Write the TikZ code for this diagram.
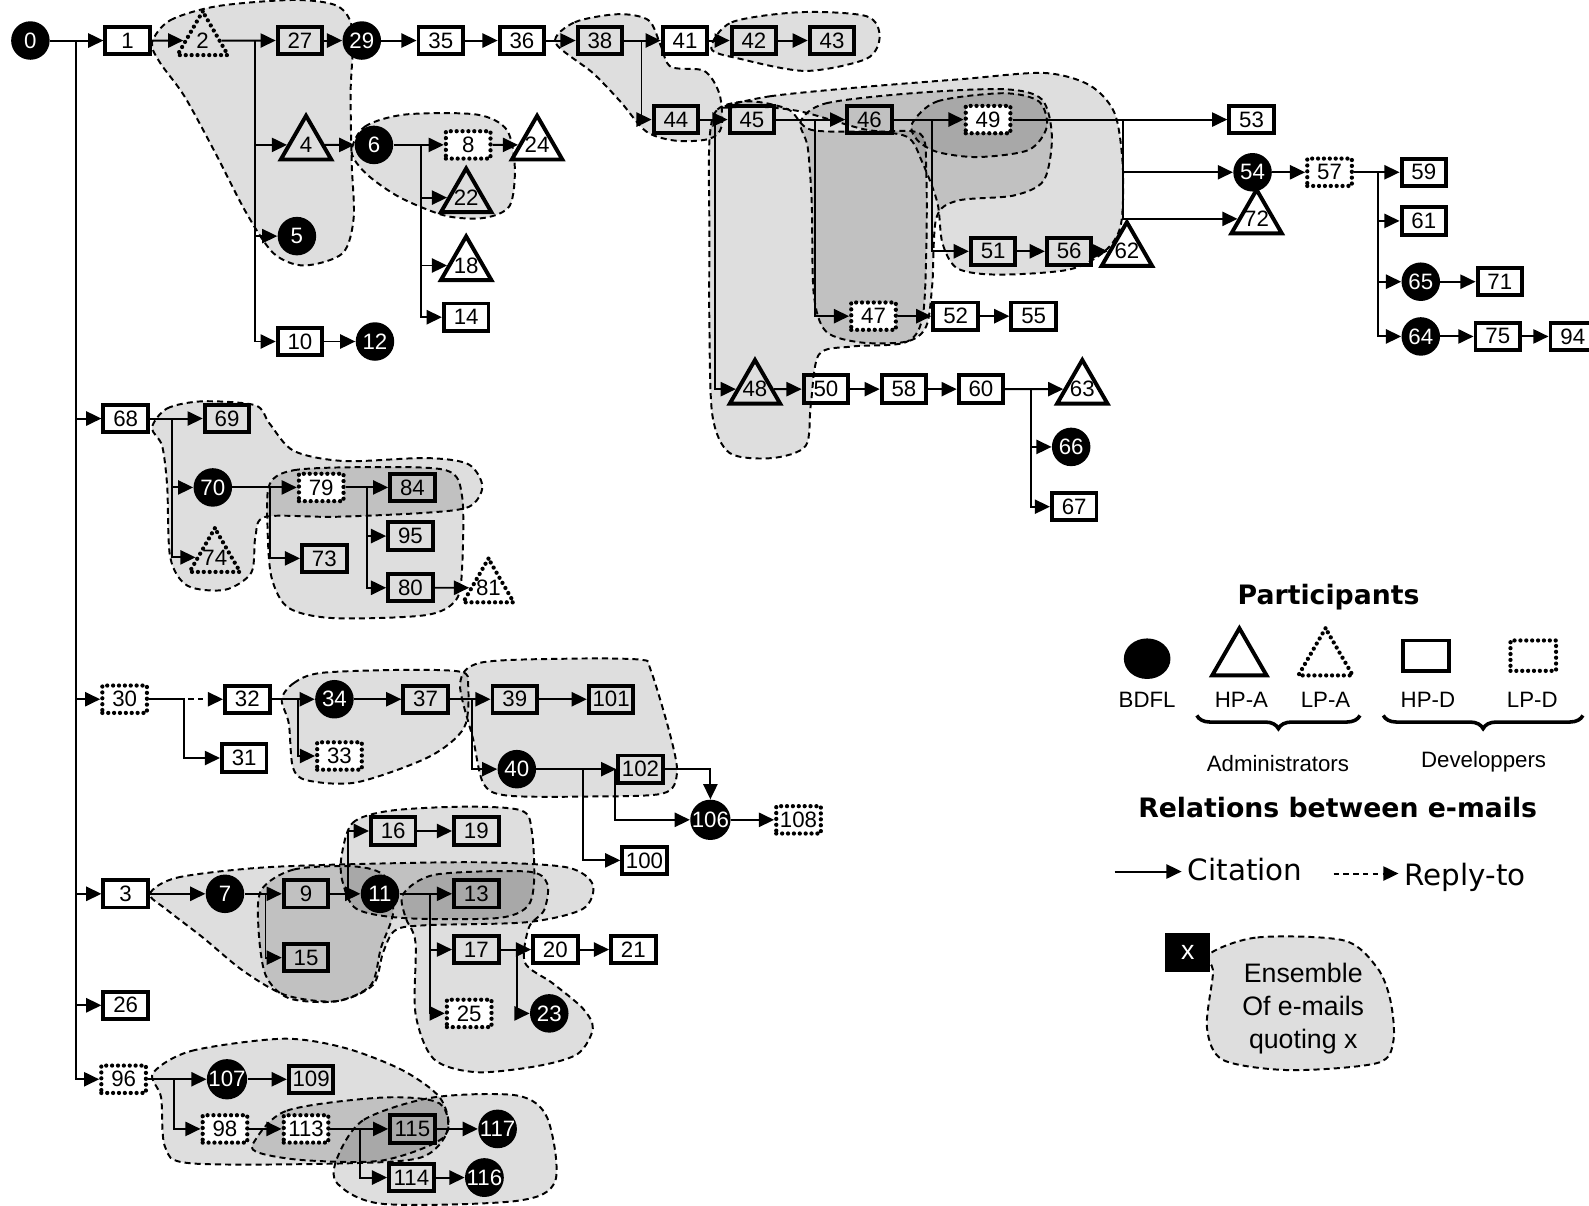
\documentclass[tikz,border=0pt]{standalone}
\usepackage{fontspec}
\setmainfont{Liberation Sans}
\newfontfamily\legendfont{DejaVu Sans}
\usepackage{tikz}
\usetikzlibrary{arrows.meta,shapes.geometric,decorations.pathreplacing}

\newcommand{\tlabel}[1]{\makebox[0pt]{#1}}

\tikzset{
  mail/.style={font=\fontsize{12.5}{14}\selectfont, inner sep=0.4mm},
  hpd/.style={mail, draw, rectangle, line width=2.2pt, minimum width=8.8mm, minimum height=5.4mm},
  lpd/.style={hpd, fill=white, line cap=round, dash pattern=on 0pt off 3.3pt, line width=2.4pt},
  bdfl/.style={mail, circle, fill=black, text=white, minimum size=7.6mm, inner sep=0pt},
  hpa/.style={mail, draw, regular polygon, regular polygon sides=3, line width=2.2pt, minimum size=11.5mm, inner sep=0pt},
  lpa/.style={hpa, line cap=round, dash pattern=on 0pt off 3.3pt, line width=2.4pt},
  cite/.style={line width=1.1pt, -{Triangle[length=3mm,width=2.8mm]}},
  reply/.style={cite, dash pattern=on 3pt off 2.5pt},
  quoteset/.style={draw, line width=1.1pt, dash pattern=on 3.4pt off 2.3pt, fill=black, fill opacity=0.13},
  legtitle/.style={font=\legendfont\bfseries\fontsize{15}{18}\selectfont},
  legrel/.style={font=\legendfont\fontsize{16.5}{20}\selectfont},
  leglabel/.style={font=\fontsize{12.5}{14}\selectfont}
}

\begin{document}
\begin{tikzpicture}[x=0.2mm,y=-0.2mm]
\useasboundingbox (0,0) rectangle (1568,1190);

% sets of e-mails quoting the same mail (behind everything)
\draw[quoteset] plot[smooth cycle] coordinates {(150,42) (168,20) (215,6) (290,0) (333,6) (348,30) (346,90) (347,160) (349,215) (338,250) (300,262) (270,250) (243,210) (212,150) (182,95) (158,62)};
\draw[quoteset] plot[smooth cycle] coordinates {(347,150) (360,125) (400,113) (470,113) (500,128) (508,165) (503,203) (478,215) (440,213) (395,195) (362,172)};
\draw[quoteset] plot[smooth cycle] coordinates {(548,42) (567,22) (610,14) (640,20) (652,45) (662,66) (695,70) (710,93) (712,125) (700,137) (668,139) (638,130) (612,100) (585,72)};
\draw[quoteset] plot[smooth cycle] coordinates {(702,48) (722,22) (790,12) (855,16) (868,36) (855,58) (795,70) (730,58)};
% around 45 .. 62
\draw[quoteset] plot[smooth cycle] coordinates {(700,140) (708,108) (740,100) (778,108) (800,128) (860,130) (908,132) (914,170) (914,250) (910,315) (893,338) (840,342) (808,350) (800,400) (795,440) (762,452) (720,447) (703,410) (700,320) (700,230)};
\draw[quoteset] plot[smooth cycle] coordinates {(790,120) (815,102) (900,92) (990,88) (1028,98) (1038,135) (1030,178) (1000,193) (945,198) (924,215) (920,280) (914,322) (895,337) (850,338) (815,327) (803,290) (801,200) (797,145)};
\draw[quoteset] plot[smooth cycle] coordinates {(712,106) (760,95) (850,86) (950,78) (1030,72) (1075,84) (1100,112) (1108,165) (1106,222) (1090,248) (1055,266) (985,271) (945,265) (930,240) (925,200) (910,160) (895,135) (850,127) (790,110) (745,105)};
\draw[quoteset] plot[smooth cycle] coordinates {(900,122) (925,100) (990,92) (1025,100) (1033,125) (1015,148) (965,155) (925,150) (905,138)};
% around 68
\draw[quoteset] plot[smooth cycle] coordinates {(150,422) (165,403) (200,396) (252,400) (266,418) (290,445) (340,455) (420,452) (462,458) (476,480) (463,500) (420,506) (330,510) (262,510) (252,530) (248,565) (222,582) (185,578) (168,550) (165,480) (160,440)};
\draw[quoteset] plot[smooth cycle] coordinates {(266,478) (290,464) (360,461) (440,464) (456,490) (456,560) (450,592) (420,607) (330,610) (285,600) (268,570) (264,520)};
% around 30
\draw[quoteset] plot[smooth cycle] coordinates {(278,690) (290,674) (317,664) (400,661) (455,663) (462,676) (458,718) (423,747) (352,772) (303,770) (289,757) (285,714)};
\draw[quoteset] plot[smooth cycle] coordinates {(454,675) (474,654) (560,650) (632,651) (642,661) (661,724) (668,763) (654,783) (580,786) (500,785) (477,773) (467,730)};
% around 3
\draw[quoteset] plot[smooth cycle] coordinates {(148,882) (175,866) (260,856) (380,852) (480,851) (560,856) (585,873) (575,897) (520,910) (420,913) (390,918) (378,940) (368,972) (332,988) (282,982) (240,958) (200,925) (165,898)};
\draw[quoteset] plot[smooth cycle] coordinates {(258,878) (290,858) (350,855) (380,865) (388,900) (376,935) (366,972) (332,988) (285,985) (262,962) (255,915)};
\draw[quoteset] plot[smooth cycle] coordinates {(337,845) (348,812) (385,800) (460,796) (515,800) (525,822) (527,870) (520,895) (490,906) (400,906) (352,897) (338,870)};
\draw[quoteset] plot[smooth cycle] coordinates {(398,882) (430,863) (520,860) (540,872) (537,898) (522,915) (518,950) (545,970) (575,995) (585,1015) (570,1040) (530,1052) (470,1058) (428,1045) (410,1000) (410,930) (400,905)};
% around 96
\draw[quoteset] plot[smooth cycle] coordinates {(151,1059) (189,1037) (279,1025) (340,1034) (397,1056) (434,1083) (442,1115) (416,1142) (340,1148) (189,1148) (163,1132) (159,1083)};
\draw[quoteset] plot[smooth cycle] coordinates {(250,1128) (283,1096) (378,1083) (434,1089) (438,1122) (378,1145) (302,1145) (257,1138)};
\draw[quoteset] plot[smooth cycle] coordinates {(333,1142) (359,1105) (427,1083) (510,1081) (540,1103) (548,1165) (510,1185) (378,1188) (333,1168)};

% mails: thread of 1
\node[bdfl] (m0) at (30,40) {0};
\node[hpd] (m1) at (126,40) {1};
\node[lpa] (m2) at (200,40) {\tlabel{2}};
\node[hpd] (m27) at (296,40) {27};
\node[bdfl] (m29) at (357,40) {29};
\node[hpd] (m35) at (435,40) {35};
\node[hpd] (m36) at (515,40) {36};
\node[hpd] (m38) at (592,40) {38};
\node[hpd] (m41) at (676,40) {41};
\node[hpd] (m42) at (744,40) {42};
\node[hpd] (m43) at (821,40) {43};
\node[hpa] (m4) at (302,143) {\tlabel{4}};
\node[bdfl] (m6) at (369,143) {6};
\node[lpd] (m8) at (462,143) {8};
\node[hpa] (m24) at (530,143) {\tlabel{24}};
\node[hpa] (m22) at (460,195) {\tlabel{22}};
\node[hpa] (m18) at (460,262) {\tlabel{18}};
\node[hpd] (m14) at (460,313) {14};
\node[bdfl] (m5) at (293,233) {5};
\node[hpd] (m10) at (296,337) {10};
\node[bdfl] (m12) at (370,337) {12};
\node[hpd] (m44) at (667,118) {44};
\node[hpd] (m45) at (742,118) {45};
\node[hpd] (m46) at (858,118) {46};
\node[lpd] (m49) at (975,118) {49};
\node[hpd] (m53) at (1235,118) {53};
\node[bdfl] (m54) at (1236,170) {54};
\node[hpa] (m72) at (1240,216) {\tlabel{72}};
\node[lpd] (m57) at (1312,170) {57};
\node[hpd] (m59) at (1405,170) {59};
\node[hpd] (m61) at (1405,218) {61};
\node[bdfl] (m65) at (1402,278) {65};
\node[hpd] (m71) at (1480,278) {71};
\node[bdfl] (m64) at (1402,332) {64};
\node[hpd] (m75) at (1478,332) {75};
\node[hpd] (m94) at (1552,332) {94};
\node[hpd] (m51) at (980,248) {51};
\node[hpd] (m56) at (1055,248) {56};
\node[hpa] (m62) at (1112,248) {\tlabel{62}};
\node[lpd] (m47) at (862,312) {47};
\node[hpd] (m52) at (943,312) {52};
\node[hpd] (m55) at (1020,312) {55};
\node[hpa] (m48) at (745,384) {\tlabel{48}};
\node[hpd] (m50) at (815,384) {50};
\node[hpd] (m58) at (892,384) {58};
\node[hpd] (m60) at (968,384) {60};
\node[hpa] (m63) at (1068,384) {\tlabel{63}};
\node[bdfl] (m66) at (1057,441) {66};
\node[hpd] (m67) at (1060,500) {67};

% mails: thread of 68
\node[hpd] (m68) at (124,413) {68};
\node[hpd] (m69) at (224,413) {69};
\node[bdfl] (m70) at (210,481) {70};
\node[lpa] (m74) at (212,550) {\tlabel{74}};
\node[lpd] (m79) at (317,481) {79};
\node[hpd] (m73) at (320,551) {73};
\node[hpd] (m84) at (407,481) {84};
\node[hpd] (m95) at (405,529) {95};
\node[hpd] (m80) at (405,580) {80};
\node[lpa] (m81) at (482,580) {\tlabel{81}};

% mails: thread of 30
\node[lpd] (m30) at (123,690) {30};
\node[hpd] (m32) at (244,690) {32};
\node[hpd] (m31) at (241,748) {31};
\node[bdfl] (m34) at (330,690) {34};
\node[lpd] (m33) at (335,746) {33};
\node[hpd] (m37) at (420,690) {37};
\node[hpd] (m39) at (508,690) {39};
\node[hpd] (m101) at (603,690) {101};
\node[bdfl] (m40) at (510,759) {40};
\node[hpd] (m102) at (632,759) {102};
\node[hpd] (m100) at (636,849) {100};
\node[bdfl] (m106) at (701,809) {106};
\node[lpd] (m108) at (788,809) {108};

% mails: thread of 3
\node[hpd] (m3) at (124,882) {3};
\node[bdfl] (m7) at (222,882) {7};
\node[hpd] (m9) at (302,882) {9};
\node[hpd] (m15) at (302,945) {15};
\node[bdfl] (m11) at (375,882) {11};
\node[hpd] (m16) at (388,820) {16};
\node[hpd] (m19) at (470,820) {19};
\node[hpd] (m13) at (470,882) {13};
\node[hpd] (m17) at (470,937) {17};
\node[lpd] (m25) at (463,1000) {25};
\node[hpd] (m20) at (548,937) {20};
\node[hpd] (m21) at (625,937) {21};
\node[bdfl] (m23) at (542,1000) {23};
\node[hpd] (m26) at (124,992) {26};

% mails: thread of 96
\node[lpd] (m96) at (122,1065) {96};
\node[bdfl] (m107) at (224,1065) {107};
\node[hpd] (m109) at (307,1065) {109};
\node[lpd] (m98) at (222,1114) {98};
\node[lpd] (m113) at (302,1114) {113};
\node[hpd] (m115) at (407,1114) {115};
\node[bdfl] (m117) at (491,1114) {117};
\node[hpd] (m114) at (406,1162) {114};
\node[bdfl] (m116) at (478,1162) {116};

% branch points
\coordinate (t0) at (75,40);
\coordinate (b2) at (252,40);
\coordinate (b6) at (415,143);
\coordinate (b38) at (633,40);
\coordinate (b44) at (706,118);
\coordinate (b45) at (804,118);
\coordinate (b46) at (920,118);
\coordinate (b49) at (1108,118);
\coordinate (b57) at (1360,170);
\coordinate (b60) at (1017,384);
\coordinate (b68) at (170,413);
\coordinate (b70) at (266,481);
\coordinate (b79) at (362,481);
\coordinate (b30) at (182,690);
\coordinate (b32) at (294,690);
\coordinate (b37) at (466,690);
\coordinate (b40) at (575,759);
\coordinate (b40b) at (607,759);
\coordinate (b7) at (262,882);
\coordinate (b9) at (343,882);
\coordinate (b11) at (424,882);
\coordinate (b17) at (510,937);
\coordinate (b96) at (172,1065);
\coordinate (b113) at (355,1114);

% citations
\draw[cite] (m0) -- (t0) -- (m1);
\draw[cite] (t0) |- (m68);
\draw[cite] (t0) |- (m30);
\draw[cite] (t0) |- (m3);
\draw[cite] (t0) |- (m26);
\draw[cite] (t0) |- (m96);
\draw[cite] (m1) -- (m2);
\draw[cite] (m2) -- (m27);
\draw[cite] (b2) |- (m4);
\draw[cite] (b2) |- (m5);
\draw[cite] (b2) |- (m10);
\draw[cite] (m10) -- (m12);
\draw[cite] (m4) -- (m6);
\draw[cite] (m6) -- (m8);
\draw[cite] (b6) |- (m22);
\draw[cite] (b6) |- (m18);
\draw[cite] (b6) |- (m14);
\draw[cite] (m8) -- (m24);
\draw[cite] (m27) -- (m29);
\draw[cite] (m29) -- (m35);
\draw[cite] (m35) -- (m36);
\draw[cite] (m36) -- (m38);
\draw[cite] (m38) -- (m41);
\draw[cite] (b38) |- (m44);
\draw[cite] (m41) -- (m42);
\draw[cite] (m42) -- (m43);
\draw[cite] (m44) -- (m45);
\draw[cite] (b44) |- (m48);
\draw[cite] (m45) -- (m46);
\draw[cite] (b45) |- (m47);
\draw[cite] (m46) -- (m49);
\draw[cite] (b46) |- (m51);
\draw[cite] (m49) -- (m53);
\draw[cite] (b49) |- (m54);
\draw[cite] (b49) |- (m72);
\draw[cite] (m54) -- (m57);
\draw[cite] (m57) -- (m59);
\draw[cite] (b57) |- (m61);
\draw[cite] (b57) |- (m65);
\draw[cite] (b57) |- (m64);
\draw[cite] (m65) -- (m71);
\draw[cite] (m64) -- (m75);
\draw[cite] (m75) -- (m94);
\draw[cite] (m51) -- (m56);
\draw[cite] (m56) -- (m62);
\draw[cite] (m47) -- (m52);
\draw[cite] (m52) -- (m55);
\draw[cite] (m48) -- (m50);
\draw[cite] (m50) -- (m58);
\draw[cite] (m58) -- (m60);
\draw[cite] (m60) -- (m63);
\draw[cite] (b60) |- (m66);
\draw[cite] (b60) |- (m67);

\draw[cite] (m68) -- (m69);
\draw[cite] (b68) |- (m70);
\draw[cite] (b68) |- (m74);
\draw[cite] (m70) -- (m79);
\draw[cite] (b70) |- (m73);
\draw[cite] (m79) -- (m84);
\draw[cite] (b79) |- (m95);
\draw[cite] (b79) |- (m80);
\draw[cite] (m80) -- (m81);

\draw[reply] (m30) -- (m32);
\draw[cite] (m30) -- (b30) |- (m31);
\draw[cite] (m32) -- (m34);
\draw[cite] (b32) |- (m33);
\draw[cite] (m34) -- (m37);
\draw[cite] (m37) -- (m39);
\draw[cite] (b37) |- (m40);
\draw[cite] (m39) -- (m101);
\draw[cite] (m40) -- (m102);
\draw[cite] (b40) |- (m100);
\draw[cite] (b40b) |- (m106);
\draw[cite] (m102) -| (m106);
\draw[cite] (m106) -- (m108);

\draw[cite] (m3) -- (m7);
\draw[cite] (m7) -- (m9);
\draw[cite] (b7) |- (m15);
\draw[cite] (m9) -- (m11);
\draw[cite] (b9) |- (m16);
\draw[cite] (m16) -- (m19);
\draw[cite] (m11) -- (m13);
\draw[cite] (b11) |- (m17);
\draw[cite] (b11) |- (m25);
\draw[cite] (m17) -- (m20);
\draw[cite] (b17) |- (m23);
\draw[cite] (m20) -- (m21);

\draw[cite] (m96) -- (m107);
\draw[cite] (b96) |- (m98);
\draw[cite] (m107) -- (m109);
\draw[cite] (m98) -- (m113);
\draw[cite] (m113) -- (m115);
\draw[cite] (b113) |- (m114);
\draw[cite] (m115) -- (m117);
\draw[cite] (m114) -- (m116);

% legend: participants
\node[legtitle] (lgPart) at (1311,589) {Participants};
\node[ellipse, fill=black, minimum width=9.2mm, minimum height=8mm] (lgBDFL) at (1132,650) {};
\node[hpa, minimum size=12.4mm] (lgHPA) at (1223,651) {};
\node[lpa, minimum size=12.4mm] (lgLPA) at (1308,651) {};
\node[hpd, minimum width=9mm, minimum height=6mm] (lgHPD) at (1407,647) {};
\node[lpd, minimum width=9mm, minimum height=6mm] (lgLPD) at (1513,647) {};
\node[leglabel] (lbBDFL) at (1132,691) {BDFL};
\node[leglabel] (lbHPA) at (1225,691) {HP-A};
\node[leglabel] (lbLPA) at (1308,691) {LP-A};
\node[leglabel] (lbHPD) at (1409,691) {HP-D};
\node[leglabel] (lbLPD) at (1512,691) {LP-D};
\coordinate (admL) at (1181,706);
\coordinate (admR) at (1342,706);
\coordinate (devL) at (1365,706);
\coordinate (devR) at (1562,706);
\draw[line width=2pt, decorate, decoration={brace, mirror, amplitude=2.6mm}] (admL) -- (admR);
\draw[line width=2pt, decorate, decoration={brace, mirror, amplitude=2.6mm}] (devL) -- (devR);
\node[leglabel] (lbAdm) at (1261,753) {Administrators};
\node[leglabel] (lbDev) at (1464,752) {Developpers};

% legend: relations
\node[legtitle] (lgRel) at (1320,797) {Relations between e-mails};
\coordinate (citeA) at (1100,860);
\node[legrel, anchor=west] (lgCite) at (1166,858) {Citation};
\draw[cite] (citeA) -- (lgCite.west |- citeA);
\coordinate (replyA) at (1316,862);
\node[legrel, anchor=west] (lgReply) at (1380,866) {Reply-to};
\draw[reply] (replyA) -- (lgReply.west |- replyA);

% legend: quoting set
\draw[quoteset] plot[smooth cycle] coordinates {(1194,941) (1241,925) (1326,928) (1359,955) (1372,987) (1375,1027) (1359,1049) (1273,1056) (1207,1046) (1191,1014) (1197,960)};
\node[fill=black, text=white, minimum width=8.8mm, minimum height=7.8mm, font=\fontsize{15}{18}\selectfont] (lgX) at (1172,940) {x};
\node[align=center, font=\fontsize{15}{18.5}\selectfont] (lgEns) at (1286,995) {Ensemble\\Of e-mails\\quoting x};
\end{tikzpicture}
\end{document}
